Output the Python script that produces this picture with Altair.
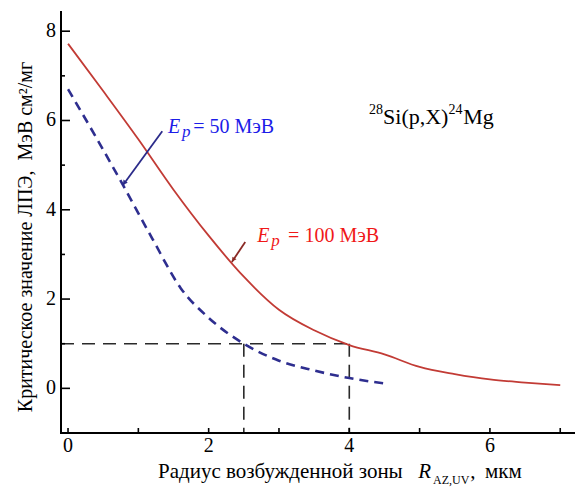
import altair as alt
import pandas as pd

# ---------------- data ----------------
red_x = [0.0, 0.5, 1.0, 1.5, 2.0, 2.5, 3.0, 3.5, 4.0, 4.5, 5.0, 5.5, 6.0, 6.5, 7.0]
red_y = [7.72, 6.66, 5.58, 4.45, 3.42, 2.5, 1.76, 1.3, 0.97, 0.76, 0.48, 0.32, 0.2, 0.13, 0.07]

blue_x = [0.0, 0.4, 0.8, 1.2, 1.6, 2.0, 2.5, 3.0, 3.5, 4.0, 4.5]
blue_y = [6.7, 5.62, 4.5, 3.35, 2.25, 1.58, 1.0, 0.62, 0.4, 0.23, 0.11]

x_tick_labels = [0, 2, 4, 6]
y_tick_labels = [0, 2, 4, 6, 8]
x_ticks_all = [0, 1, 2, 3, 4, 5, 6, 7]
y_minor = [1, 3, 5, 7]

guide_level = 1.0
guide_radii = [2.5, 4.0]

y_title = "Критическое значение ЛПЭ,\u00a0\u00a0МэВ\u00a0см²/мг"
x_title_main = "Радиус возбужденной зоны"
x_title_sym = "R"
x_title_sub = "AZ,UV"
x_title_unit = "мкм"
lbl_E = "E"
lbl_p = "p"
lbl_50 = "= 50 МэВ"
lbl_100 = "= 100 МэВ"
react_a = "28"
react_b = "Si(p,X)"
react_c = "24"
react_d = "Mg"

# ---------------- layout ----------------
W, H = 514, 421
XD = [-0.1, 7.21]
YD = [-1.0, 8.43]
FONT = "Liberation Serif"

xs = alt.Scale(domain=XD, nice=False, zero=False)
ys = alt.Scale(domain=YD, nice=False, zero=False)


def X(f="x"):
    return alt.X(f"{f}:Q", scale=xs, axis=None)


def Y(f="y"):
    return alt.Y(f"{f}:Q", scale=ys, axis=None)


red_df = pd.DataFrame({"x": red_x, "y": red_y})
blue_df = pd.DataFrame({"x": blue_x, "y": blue_y})

red = alt.Chart(red_df).mark_line(
    color="#c23b35", strokeWidth=1.8, interpolate="monotone"
).encode(x=X(), y=Y())

blue = alt.Chart(blue_df).mark_line(
    color="#2e2e8f", strokeWidth=2.6, strokeDash=[9, 6], interpolate="monotone"
).encode(x=X(), y=Y())

guides_df = pd.DataFrame({
    "x": [XD[0]] + guide_radii,
    "x2": [guide_radii[-1]] + guide_radii,
    "y": [guide_level] * 3,
    "y2": [guide_level, YD[0], YD[0]],
})
guides = alt.Chart(guides_df).mark_rule(
    color="#2a2a2a", strokeWidth=1.6, strokeDash=[13, 8]
).encode(x=X(), x2="x2:Q", y=Y(), y2="y2:Q")

# axis lines (left and bottom), drawn through the scales
domain_df = pd.DataFrame({
    "x": [XD[0], XD[0]], "x2": [XD[1], XD[0]],
    "y": [YD[0], YD[0]], "y2": [YD[0], YD[1]],
})
domain = alt.Chart(domain_df).mark_rule(
    color="black", strokeWidth=2, strokeCap="square"
).encode(x=X(), x2="x2:Q", y=Y(), y2="y2:Q")

# inward ticks
yt_major = alt.Chart(pd.DataFrame({"v": y_tick_labels})).mark_rule(
    color="black", strokeWidth=1.6).encode(y=Y("v"), x=alt.value(0), x2=alt.value(9))
yt_minor = alt.Chart(pd.DataFrame({"v": y_minor})).mark_rule(
    color="black", strokeWidth=1.6).encode(y=Y("v"), x=alt.value(0), x2=alt.value(4))
xt = alt.Chart(pd.DataFrame({"v": x_ticks_all})).mark_rule(
    color="black", strokeWidth=1.6).encode(x=X("v"), y=alt.value(H), y2=alt.value(H - 5))

# tick labels
xl = alt.Chart(pd.DataFrame({"v": x_tick_labels})).mark_text(
    font=FONT, fontSize=20, color="black", align="center", baseline="alphabetic"
).encode(x=X("v"), y=alt.value(H + 19), text="v:Q")
yl = alt.Chart(pd.DataFrame({"v": y_tick_labels})).mark_text(
    font=FONT, fontSize=20, color="black", align="right", baseline="middle"
).encode(y=Y("v"), x=alt.value(-5), text="v:Q")
yttl = alt.Chart(pd.DataFrame({"t": [y_title]})).mark_text(
    font=FONT, fontSize=20, color="black", align="center", baseline="middle", angle=270
).encode(x=alt.value(-35), y=alt.value(225), text="t:N")


def txt(s, x, y, size=20, color="black", style="normal", align="left", ypix=None):
    ch = alt.Chart(pd.DataFrame({"x": [x], "y": [y], "t": [s]})).mark_text(
        font=FONT, fontSize=size, color=color, fontStyle=style, align=align,
        baseline="alphabetic")
    if ypix is None:
        return ch.encode(x=X(), y=Y(), text="t:N")
    return ch.encode(x=X(), y=alt.value(ypix), text="t:N")


# arrows
arrow_blue = alt.Chart(pd.DataFrame({"x": [0.78], "y": [4.55], "x2": [1.34], "y2": [5.76]})).mark_rule(
    color="#2b2b8a", strokeWidth=1.8).encode(x=X(), y=Y(), x2="x2:Q", y2="y2:Q")
head_blue = alt.Chart(pd.DataFrame({"x": [0.8], "y": [4.6]})).mark_point(
    shape="triangle-up", filled=True, size=28, angle=216, color="#2b2b8a", opacity=1
).encode(x=X(), y=Y())
arrow_red = alt.Chart(pd.DataFrame({"x": [2.33], "y": [2.83], "x2": [2.52], "y2": [3.28]})).mark_rule(
    color="#8b2a25", strokeWidth=1.8).encode(x=X(), y=Y(), x2="x2:Q", y2="y2:Q")
head_red = alt.Chart(pd.DataFrame({"x": [2.35], "y": [2.88]})).mark_point(
    shape="triangle-up", filled=True, size=24, angle=213, color="#8b2a25", opacity=1
).encode(x=X(), y=Y())

BLUE_T = "#1c1ce8"
RED_T = "#f01818"
texts = [
    txt(lbl_E, 1.42, 5.71, 20, BLUE_T, "italic"),
    txt(lbl_p, 1.62, 5.62, 17, BLUE_T, "italic"),
    txt(lbl_50, 1.78, 5.71, 20, BLUE_T),
    txt(lbl_E, 2.69, 3.27, 20, RED_T, "italic"),
    txt(lbl_p, 2.89, 3.18, 17, RED_T, "italic"),
    txt(lbl_100, 3.13, 3.27, 20, RED_T),
    txt(react_a, 4.48, 6.14, 14, align="right"),
    txt(react_b, 4.48, 5.93, 22),
    txt(react_c, 5.41, 6.14, 14),
    txt(react_d, 5.62, 5.93, 22),
    txt(x_title_main, 4.76, 0, 21, align="right", ypix=466),
    txt(x_title_sym, 4.98, 0, 21, style="italic", ypix=466),
    txt(x_title_sub, 5.19, 0, 12, ypix=472),
    txt(",", 5.72, 0, 21, ypix=466),
    txt(x_title_unit, 5.93, 0, 21, ypix=466),
]

chart = alt.layer(
    guides, red, blue, domain, yt_major, yt_minor, xt, xl, yl, yttl,
    arrow_blue, head_blue, arrow_red, head_red, *texts
).properties(
    width=W, height=H,
    padding={"left": 53, "top": 4, "right": 0, "bottom": 55},
    autosize=alt.AutoSizeParams(type="none"),
    background="white",
).configure_view(stroke=None)

chart.save("out.html", embed_options={"renderer": "svg", "actions": False})
